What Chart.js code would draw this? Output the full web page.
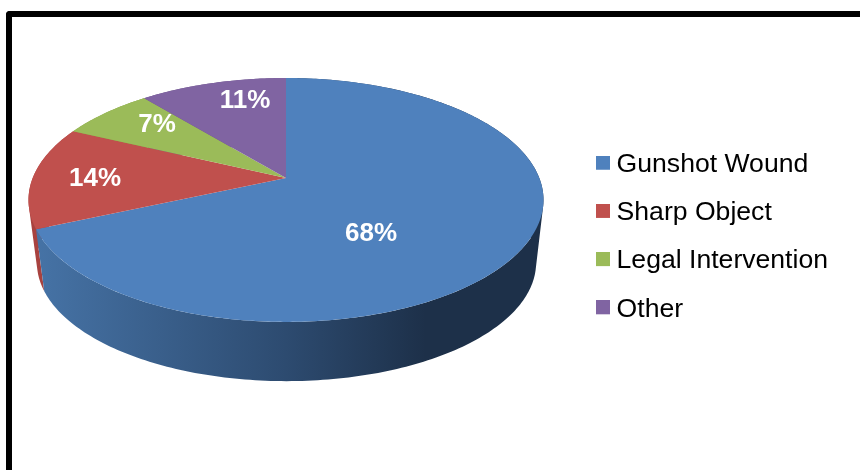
<!DOCTYPE html>
<html>
<head>
<meta charset="utf-8">
<script src="https://cdn.jsdelivr.net/npm/chart.js@4/dist/chart.umd.min.js"></script>
<style>
  html, body { margin: 0; padding: 0; background: #fff; overflow: hidden; }
  #wrap { position: relative; width: 860px; height: 470px; }
  #frame { position: absolute; left: 5.5px; top: 10.5px; right: 0; bottom: 0;
           border-left: 6px solid #000; border-top: 6px solid #000; border-top-left-radius: 4px; }
  canvas { position: absolute; left: 0; top: 0; }
</style>
</head>
<body>
<div id="wrap">
  <div id="frame"></div>
  <canvas id="myChart" width="860" height="470"></canvas>
</div>
<script>
var categories = ['Gunshot Wound', 'Sharp Object', 'Legal Intervention', 'Other'];
var shares = [68.4, 13.6, 7, 11];
var faceColors = ['#4F81BD', '#C0504D', '#9BBB59', '#8064A2'];
var sideColors = [null, '#A8423F', '#86A247', '#6B5488'];
var labelX = [371, 95, 157, 245];
var labelY = [234, 179, 125, 101];

// the tilted disc: apex of the slices, half width and height, and perspective
var disc = { x: 286, y: 178, a: 253.3, b: 118, w: 0.18 };
var floorDisc = { x: 286.5, y: 241.5, a: 245.5, b: 114.5, w: 0.18 };

function project(d, angle, r) {
    var u = Math.cos(angle) * r;
    var v = -Math.sin(angle) * r;
    var k = 1 + d.w * v;
    return { x: d.x + d.a * u / k, y: d.y - d.b * v / k };
}

function drawSide(ctx, arc, fill) {
    var step = Math.PI / 180;
    ctx.beginPath();
    for (var t = arc.startAngle; t < arc.endAngle; t += step) {
        var t2 = Math.min(t + step, arc.endAngle);
        var q = [project(disc, t, 1), project(disc, t2, 1),
                 project(floorDisc, t2, 1), project(floorDisc, t, 1)];
        // all quads wound the same way so the one fill has no seams
        var area = 0;
        for (var i = 0; i < 4; i++) {
            var n = q[(i + 1) % 4];
            area += q[i].x * n.y - n.x * q[i].y;
        }
        if (area < 0) q.reverse();
        ctx.moveTo(q[0].x, q[0].y);
        ctx.lineTo(q[1].x, q[1].y);
        ctx.lineTo(q[2].x, q[2].y);
        ctx.lineTo(q[3].x, q[3].y);
        ctx.closePath();
    }
    ctx.fillStyle = fill;
    ctx.fill();
}

function drawFace(ctx, arc, fill) {
    ctx.beginPath();
    ctx.moveTo(disc.x, disc.y);
    for (var t = arc.startAngle; t < arc.endAngle; t += 0.01) {
        var p = project(disc, t, 1);
        ctx.lineTo(p.x, p.y);
    }
    var end = project(disc, arc.endAngle, 1);
    ctx.lineTo(end.x, end.y);
    ctx.closePath();
    ctx.fillStyle = fill;
    ctx.fill();
}

var pie3d = {
    id: 'pie3d',
    beforeDatasetsDraw: function(chart) {
        var ctx = chart.ctx;
        var arcs = chart.getDatasetMeta(0).data;
        var shade = ctx.createLinearGradient(35, 0, 536, 0);
        shade.addColorStop(0, '#4673A6');
        shade.addColorStop(0.5, '#2D4B70');
        shade.addColorStop(0.78, '#1D3049');
        shade.addColorStop(1, '#1D3049');

        ctx.save();
        for (var i = arcs.length - 1; i >= 0; i--) {
            drawSide(ctx, arcs[i], sideColors[i] || shade);
        }
        for (var j = 0; j < arcs.length; j++) {
            drawFace(ctx, arcs[j], faceColors[j]);
        }
        ctx.fillStyle = '#fff';
        ctx.font = 'bold 26px "Liberation Sans"';
        ctx.textAlign = 'center';
        ctx.textBaseline = 'middle';
        for (var n = 0; n < shares.length; n++) {
            ctx.fillText(Math.round(shares[n]) + '%', labelX[n], labelY[n]);
        }
        ctx.restore();
        return false;
    }
};

// square swatch for the legend, keeps the text close to the box
// (taller canvas with empty bottom lifts the square level with the text)
function swatch(color) {
    var c = document.createElement('canvas');
    c.width = 14;
    c.height = 18;
    var g = c.getContext('2d');
    g.fillStyle = color;
    g.fillRect(0, 0, 14, 14);
    return c;
}

new Chart(document.getElementById('myChart'), {
    type: 'pie',
    data: {
        labels: categories,
        datasets: [{ data: shares, backgroundColor: faceColors, borderWidth: 0 }]
    },
    options: {
        responsive: false,
        animation: false,
        layout: { padding: { right: 22, top: 4 } },
        plugins: {
            tooltip: { enabled: false },
            legend: {
                position: 'right',
                labels: {
                    color: '#000',
                    font: { family: '"Liberation Sans"', size: 26.6 },
                    usePointStyle: true,
                    pointStyleWidth: 1,
                    padding: 21.6,
                    generateLabels: function(chart) {
                        var items = Chart.overrides.pie.plugins.legend.labels.generateLabels(chart);
                        items.forEach(function(item, i) {
                            item.pointStyle = swatch(faceColors[i]);
                        });
                        return items;
                    }
                }
            }
        }
    },
    plugins: [pie3d]
});
</script>
</body>
</html>
